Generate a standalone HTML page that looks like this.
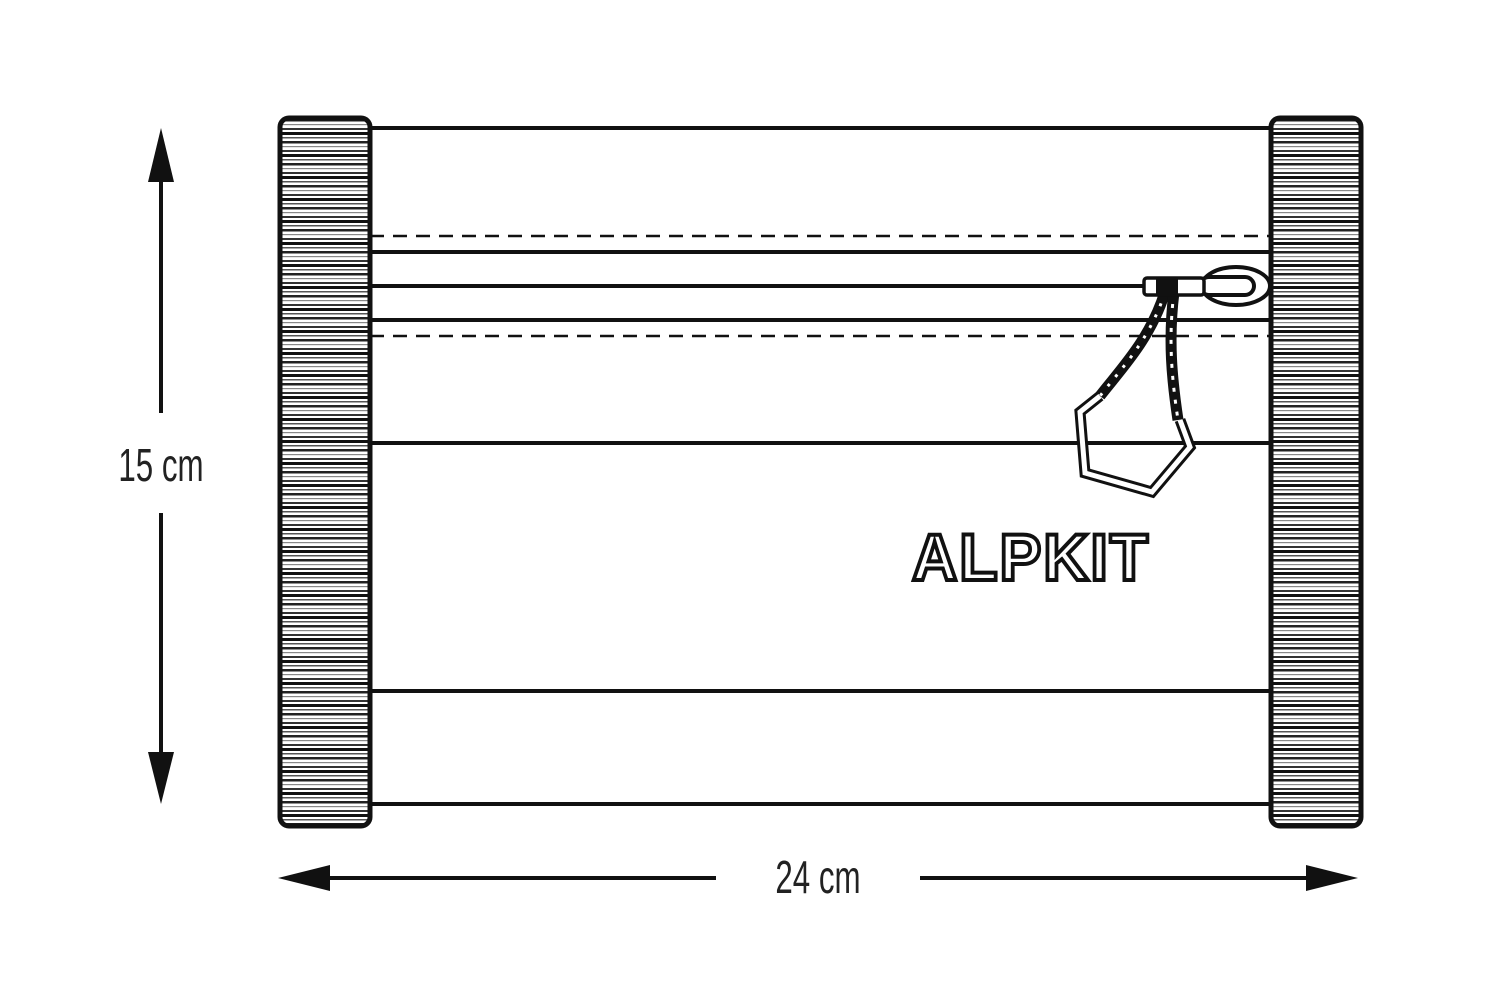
<!DOCTYPE html>
<html><head><meta charset="utf-8"><style>
html,body{margin:0;padding:0;background:#fff;}
svg{display:block;}
</style></head><body>
<svg width="1500" height="1004" viewBox="0 0 1500 1004" xmlns="http://www.w3.org/2000/svg">
<defs>
<pattern id="stripes" width="10" height="22" patternUnits="userSpaceOnUse">
<rect width="10" height="22" fill="#fff"/>
<rect y="0" width="10" height="3" fill="#111"/>
<rect y="5" width="10" height="1.5" fill="#555"/>
<rect y="9" width="10" height="2.5" fill="#222"/>
<rect y="14" width="10" height="1.2" fill="#888"/>
<rect y="18" width="10" height="2" fill="#333"/>
</pattern>
</defs>
<g stroke="#111" stroke-width="4" fill="none">
<line x1="370" y1="128" x2="1272" y2="128"/>
<line x1="370" y1="252" x2="1272" y2="252"/>
<line x1="370" y1="286" x2="1145" y2="286"/>
<line x1="370" y1="320" x2="1272" y2="320"/>
<line x1="370" y1="443" x2="1272" y2="443"/>
<line x1="370" y1="691" x2="1272" y2="691"/>
<line x1="370" y1="804" x2="1272" y2="804"/>
<line x1="370" y1="236" x2="1272" y2="236" stroke-width="2.5" stroke-dasharray="14 9"/>
<line x1="370" y1="336" x2="1272" y2="336" stroke-width="2.5" stroke-dasharray="14 9"/>
</g>
<rect x="280" y="118" width="90" height="708" rx="9" fill="url(#stripes)" stroke="#111" stroke-width="5"/>
<rect x="1271" y="118" width="90" height="708" rx="9" fill="url(#stripes)" stroke="#111" stroke-width="5"/>
<g stroke="#111" fill="#fff">
<path d="M1165 292 C1150 340 1120 370 1100 396" stroke-width="11" fill="none"/>
<path d="M1165 292 C1150 340 1120 370 1100 396" stroke="#fff" stroke-width="3" stroke-dasharray="3 9" fill="none"/>
<path d="M1174 292 C1168 340 1172 380 1178 420" stroke-width="11" fill="none"/>
<path d="M1174 292 C1168 340 1172 380 1178 420" stroke="#fff" stroke-width="3" stroke-dasharray="4 8" fill="none"/>
<path d="M1100 396 L1080 412 L1085 473 L1152 492 L1190 447 L1180 420" fill="none" stroke-width="11"/>
<path d="M1100 396 L1080 412 L1085 473 L1152 492 L1190 447 L1180 420" fill="none" stroke="#fff" stroke-width="5"/>
<ellipse cx="1236" cy="286" rx="34" ry="19" stroke-width="4"/>
<rect x="1200" y="277" width="54" height="18" rx="9" stroke-width="4"/>
<rect x="1144" y="278" width="60" height="17" rx="3" stroke-width="3.5"/>
<rect x="1156" y="278" width="22" height="17" fill="#111" stroke="none"/>
</g>
<text x="912" y="580" font-family="Liberation Sans, sans-serif" font-weight="bold" font-size="66" textLength="238" lengthAdjust="spacingAndGlyphs" fill="#fff" stroke="#111" stroke-width="4" letter-spacing="2">ALPKIT</text>
<g stroke="#111" stroke-width="4">
<line x1="161" y1="170" x2="161" y2="413"/>
<line x1="161" y1="513" x2="161" y2="765"/>
</g>
<polygon points="161,128 148,182 174,182" fill="#111"/>
<polygon points="161,804 148,752 174,752" fill="#111"/>
<text x="161" y="481" text-anchor="middle" font-family="Liberation Sans Narrow, Liberation Sans, sans-serif" font-size="46" fill="#222" transform="translate(161 0) scale(0.68 1) translate(-161 0)">15 cm</text>
<g stroke="#111" stroke-width="4">
<line x1="320" y1="878" x2="716" y2="878"/>
<line x1="920" y1="878" x2="1318" y2="878"/>
</g>
<polygon points="278,878 330,865 330,891" fill="#111"/>
<polygon points="1358,878 1306,865 1306,891" fill="#111"/>
<text x="818" y="893" text-anchor="middle" font-family="Liberation Sans Narrow, Liberation Sans, sans-serif" font-size="46" fill="#222" transform="translate(818 0) scale(0.68 1) translate(-818 0)">24 cm</text>
</svg>
</body></html>
